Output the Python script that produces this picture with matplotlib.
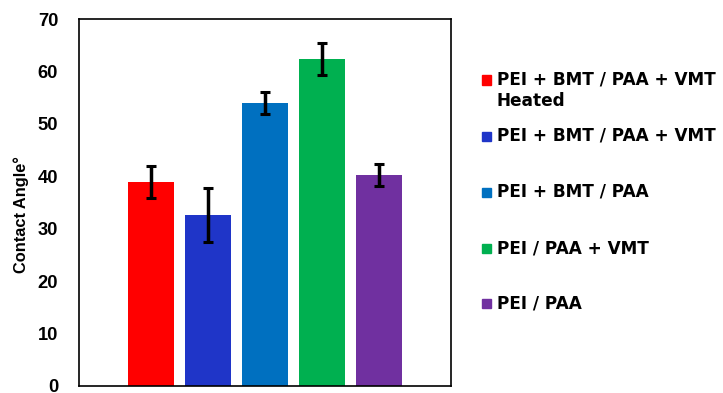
import matplotlib
matplotlib.use("Agg")
import matplotlib.pyplot as plt
from matplotlib.patches import Rectangle

plt.rcParams['font.family'] = ['Liberation Sans', 'DejaVu Sans']

labels = ["PEI + BMT / PAA + VMT\nHeated", "PEI + BMT / PAA + VMT",
          "PEI + BMT / PAA", "PEI / PAA + VMT", "PEI / PAA"]
values = [38.9, 32.6, 54.0, 62.4, 40.3]
errors = [3.1, 5.1, 2.1, 3.1, 2.1]
colors = ["#FF0000", "#1F35C8", "#0070C0", "#00B050", "#7030A0"]
yticks = [0, 10, 20, 30, 40, 50, 60, 70]

fig = plt.figure(figsize=(7.23, 3.93), dpi=100)
ax = fig.add_axes([79 / 723, 1 - 386 / 393, 372 / 723, 367 / 393])

x = list(range(len(values)))
ax.bar(x, values, width=0.8, color=colors, zorder=2)
ax.errorbar(x, values, yerr=errors, fmt='none', ecolor='black',
            elinewidth=2.5, capsize=3.5, capthick=2.2, zorder=3)

ax.set_xlim(-1.26, 5.26)
ax.set_ylim(0, 70)
ax.set_yticks(yticks)
ax.set_yticklabels([str(t) for t in yticks], fontsize=13.2, fontweight='bold')
ax.tick_params(axis='y', length=0, pad=15)
ax.set_xticks([])
for s in ax.spines.values():
    s.set_linewidth(1.2)
    s.set_color('black')

fig.text(21 / 723, 1 - 215 / 393, "Contact Angle°", rotation=90,
         ha='center', va='center', fontsize=11.8, fontweight='bold')

# Legend drawn as colored squares with labels
row_y = [80, 136, 192, 248, 303]
for lab, col, yy in zip(labels, colors, row_y):
    fig.patches.append(Rectangle((482 / 723, 1 - (yy + 4.5) / 393), 9 / 723, 9 / 393,
                                 transform=fig.transFigure, color=col))
    fig.text(497 / 723, 1 - (yy - 9) / 393, lab, ha='left', va='top',
             fontsize=12.2, fontweight='bold', linespacing=1.25,
             family=['DejaVu Sans'])

fig.savefig("out.png", dpi=100)
